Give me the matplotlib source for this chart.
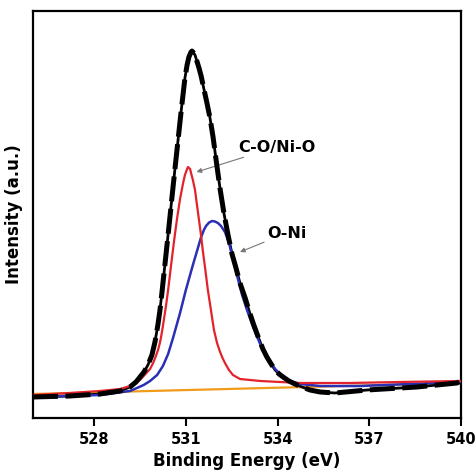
import matplotlib.pyplot as plt

# O 1s spectrum (intensity in arbitrary units)
data_be = [526.00, 527.21, 528.19, 528.85, 529.17, 529.37, 529.50, 529.63, 529.76,
           529.89, 529.99, 530.09, 530.15, 530.22, 530.38, 530.48, 530.55, 530.65,
           530.71, 530.78, 530.84, 530.91, 530.97, 531.04, 531.10, 531.17, 531.20,
           531.23, 531.30, 531.36, 531.43, 531.50, 531.59, 531.69, 531.79, 531.89,
           531.99, 532.12, 532.25, 532.38, 532.51, 532.64, 532.77, 532.94, 533.07,
           533.20, 533.33, 533.43, 533.52, 533.65, 533.79, 533.92, 534.05, 534.18,
           534.37, 534.57, 534.80, 535.06, 535.39, 535.88, 536.93, 538.56, 539.87,
           540.00]
data_int = [21, 22, 24, 27, 31, 36, 41, 46, 53,
            63, 76, 94, 107, 126, 172, 201, 222, 251,
            268, 288, 305, 324, 340, 353, 361, 366, 367,
            366, 363, 357, 350, 342, 329, 315, 300, 281,
            258, 229, 204, 183, 164, 150, 135, 120, 107,
            95, 84, 76, 69, 61, 54, 48, 44, 41,
            37, 34, 31, 28, 26, 25, 28, 31, 35,
            37]

# C-O/Ni-O component (red)
co_be = [526.00, 527.21, 528.19, 528.85, 529.17, 529.50, 529.83, 529.93, 530.02,
         530.09, 530.15, 530.19, 530.25, 530.35, 530.42, 530.51, 530.61, 530.71,
         530.81, 530.91, 530.97, 531.04, 531.07, 531.14, 531.17, 531.23, 531.30,
         531.36, 531.43, 531.50, 531.56, 531.63, 531.72, 531.79, 531.86, 531.92,
         532.02, 532.12, 532.20, 532.28, 532.41, 532.54, 532.77, 533.10, 533.43,
         534.73, 536.37, 538.01, 540.00]
co_int = [23, 25, 27, 29, 32, 38, 49, 55, 62,
          68, 75, 81, 92, 112, 128, 151, 176, 199,
          219, 235, 243, 249, 251, 249, 245, 238, 228,
          214, 198, 182, 166, 150, 128, 114, 100, 88,
          75, 66, 60, 55, 48, 43, 39, 38, 37,
          35, 35, 36, 37]

# O-Ni component (blue)
oni_be = [526.00, 527.21, 528.19, 529.17, 529.40, 529.62, 529.83, 530.06, 530.25,
          530.42, 530.58, 530.81, 531.00, 531.23, 531.50, 531.59, 531.66, 531.76,
          531.86, 531.95, 532.05, 532.15, 532.28, 532.41, 532.54, 532.67, 532.84,
          533.00, 533.20, 533.43, 533.65, 533.92, 534.18, 534.41, 534.73, 535.39,
          536.70, 538.33, 540.00]
oni_int = [21, 22, 23, 27, 30, 33, 37, 43, 52,
           64, 80, 105, 128, 153, 181, 188, 192, 195.5,
           197, 196.5, 195, 192, 186, 175, 160, 143, 123,
           108, 91, 74, 61, 49, 41, 37, 34, 32,
           32, 34, 36]

# background (orange)
bg_be = [526.0, 540.0]
bg_int = [24, 35]

fig = plt.figure(figsize=(4.76, 4.73), dpi=100)
ax = fig.add_axes([0.0693, 0.1163, 0.8992, 0.8604])

ax.plot(bg_be, bg_int, color='#f29a1c', linewidth=1.6, zorder=2)
ax.plot(data_be, data_int, color='black', linewidth=2.0, zorder=3)
ax.plot(oni_be, oni_int, color='#2b2fb3', linewidth=1.8, zorder=4)
ax.plot(co_be, co_int, color='#e3232b', linewidth=1.6, zorder=5)
ax.plot(data_be, data_int, color='black', linewidth=3.6, linestyle=(0, (5, 1.5)), zorder=6)

arrow = dict(arrowstyle='-|>', color='#777777', lw=0.8, mutation_scale=7,
             shrinkA=0, shrinkB=0)
ax.annotate('C-O/Ni-O', xy=(531.35, 246), xytext=(532.7, 271),
            fontsize=11.5, fontweight='bold', va='center', ha='left',
            arrowprops=arrow)
ax.annotate('O-Ni', xy=(532.77, 166), xytext=(533.65, 185),
            fontsize=11.5, fontweight='bold', va='center', ha='left',
            arrowprops=arrow)

ax.set_xlim(526, 540)
ax.set_ylim(0, 407)
ax.set_xticks([528, 531, 534, 537, 540])
ax.set_yticks([])
ax.tick_params(axis='x', direction='out', length=6, width=1.5, labelsize=10.5, pad=4)
for lbl in ax.get_xticklabels():
    lbl.set_fontweight('bold')
for sp in ax.spines.values():
    sp.set_linewidth(1.6)

ax.set_xlabel('Binding Energy (eV)', fontsize=12, fontweight='bold', labelpad=4)
ax.set_ylabel('Intensity (a.u.)', fontsize=12, fontweight='bold', labelpad=7)

fig.savefig('out.png', dpi=100)
